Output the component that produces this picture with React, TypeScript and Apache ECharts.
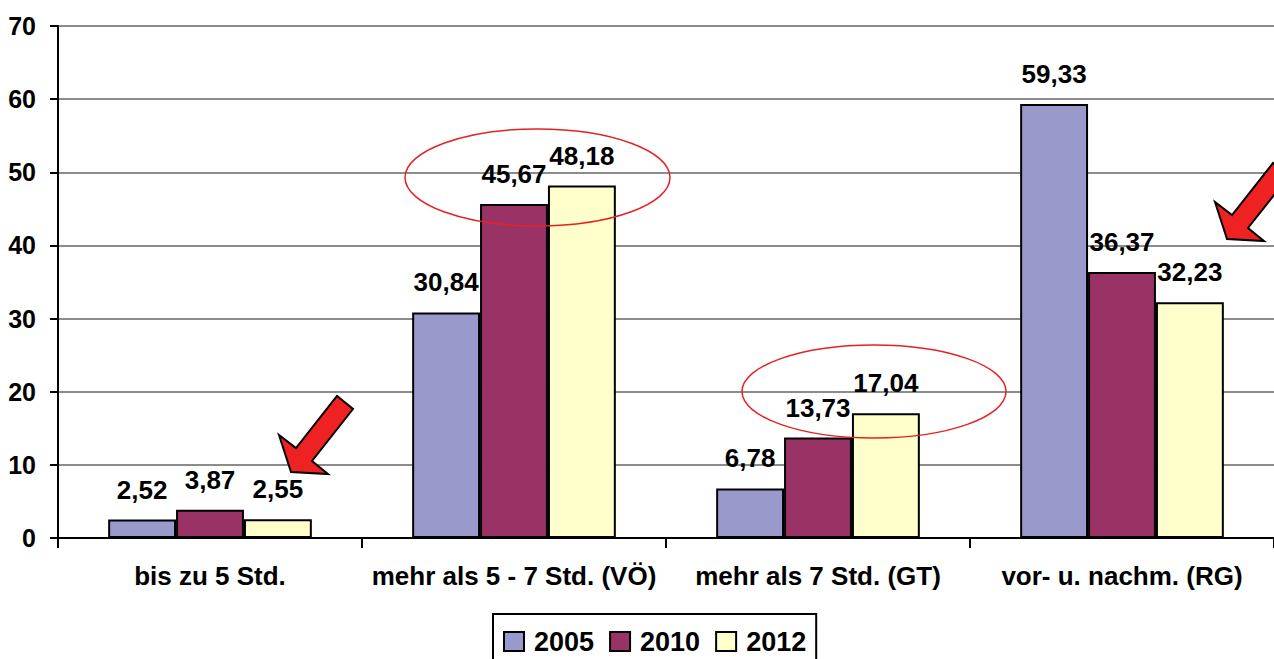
import React, { useEffect, useRef } from "react";
import * as echarts from "echarts";

const categories = ["bis zu 5 Std.", "mehr als 5 - 7 Std. (VÖ)", "mehr als 7 Std. (GT)", "vor- u. nachm. (RG)"];
const seriesNames = ["2005", "2010", "2012"];
const values2005 = [2.52, 30.84, 6.78, 59.33];
const values2010 = [3.87, 45.67, 13.73, 36.37];
const values2012 = [2.55, 48.18, 17.04, 32.23];
const colors = ["#9999CC", "#993366", "#FFFFCC"];

const FONT = "'Liberation Sans', Arial, sans-serif";

const arrow1 = [
  [291, 472], [279, 435], [296, 448], [337, 396], [353, 409], [312, 461], [328, 474],
];
const arrow2 = arrow1.map(([x, y]) => [x + 936, y - 233]);

export default function App() {
  const ref = useRef<HTMLDivElement>(null);
  useEffect(() => {
    if (!ref.current) return;
    const chart = echarts.init(ref.current, null, { renderer: "svg" });
    const data = [values2005, values2010, values2012];
    chart.setOption({
      animation: false,
      backgroundColor: "#ffffff",
      textStyle: { fontFamily: FONT },
      grid: { left: 58, top: 26, width: 1221, height: 512, containLabel: false },
      legend: {
        data: seriesNames,
        left: 493,
        top: 614,
        padding: [14, 10, 20, 10],
        borderColor: "#000",
        borderWidth: 2,
        itemGap: 15,
        itemWidth: 20,
        itemHeight: 19,
        icon: "rect",
        textStyle: { fontFamily: FONT, fontWeight: "bold", fontSize: 27, color: "#000", padding: [0, 0, 0, 5] },
      },
      xAxis: {
        type: "category",
        data: categories,
        axisLine: { lineStyle: { color: "#000", width: 2 } },
        axisTick: { show: true, length: 10, lineStyle: { color: "#000", width: 2 } },
        axisLabel: { fontFamily: FONT, fontWeight: "bold", fontSize: 26, color: "#000", margin: 25, interval: 0 },
      },
      yAxis: {
        type: "value",
        min: 0,
        max: 70,
        interval: 10,
        axisLine: { show: true, lineStyle: { color: "#000", width: 2 } },
        axisTick: { show: true, length: 8, lineStyle: { color: "#000", width: 2 } },
        axisLabel: { fontFamily: FONT, fontWeight: "bold", fontSize: 25, color: "#000", margin: 22 },
        splitLine: { lineStyle: { color: "#8c8c8c", width: 2 } },
      },
      series: seriesNames.map((name, i) => ({
        name,
        type: "bar",
        data: data[i],
        barGap: "0%",
        barCategoryGap: "33%",
        itemStyle: { color: colors[i], borderColor: "#000", borderWidth: 2 },
        label: {
          show: true,
          position: "top",
          distance: 17,
          fontFamily: FONT,
          fontWeight: "bold",
          fontSize: 26,
          color: "#000",
          formatter: (p: any) => p.value.toFixed(2).replace(".", ","),
        },
      })),
      graphic: [
        {
          type: "ellipse",
          shape: { cx: 537.5, cy: 177.5, rx: 132.5, ry: 48.5 },
          style: { fill: "none", stroke: "#E52222", lineWidth: 1.5 },
          z: 100,
        },
        {
          type: "ellipse",
          shape: { cx: 874, cy: 391.5, rx: 132, ry: 46.5 },
          style: { fill: "none", stroke: "#E52222", lineWidth: 1.5 },
          z: 100,
        },
        {
          type: "polygon",
          shape: { points: arrow1 },
          style: { fill: "#EE2222", stroke: "#000", lineWidth: 2 },
          z: 100,
        },
        {
          type: "polygon",
          shape: { points: arrow2 },
          style: { fill: "#EE2222", stroke: "#000", lineWidth: 2 },
          z: 100,
        },
      ],
    });
    return () => chart.dispose();
  }, []);
  return (
    <div
      ref={ref}
      style={{ position: "fixed", left: 0, top: 0, width: 1274, height: 659, background: "#fff" }}
    />
  );
}
